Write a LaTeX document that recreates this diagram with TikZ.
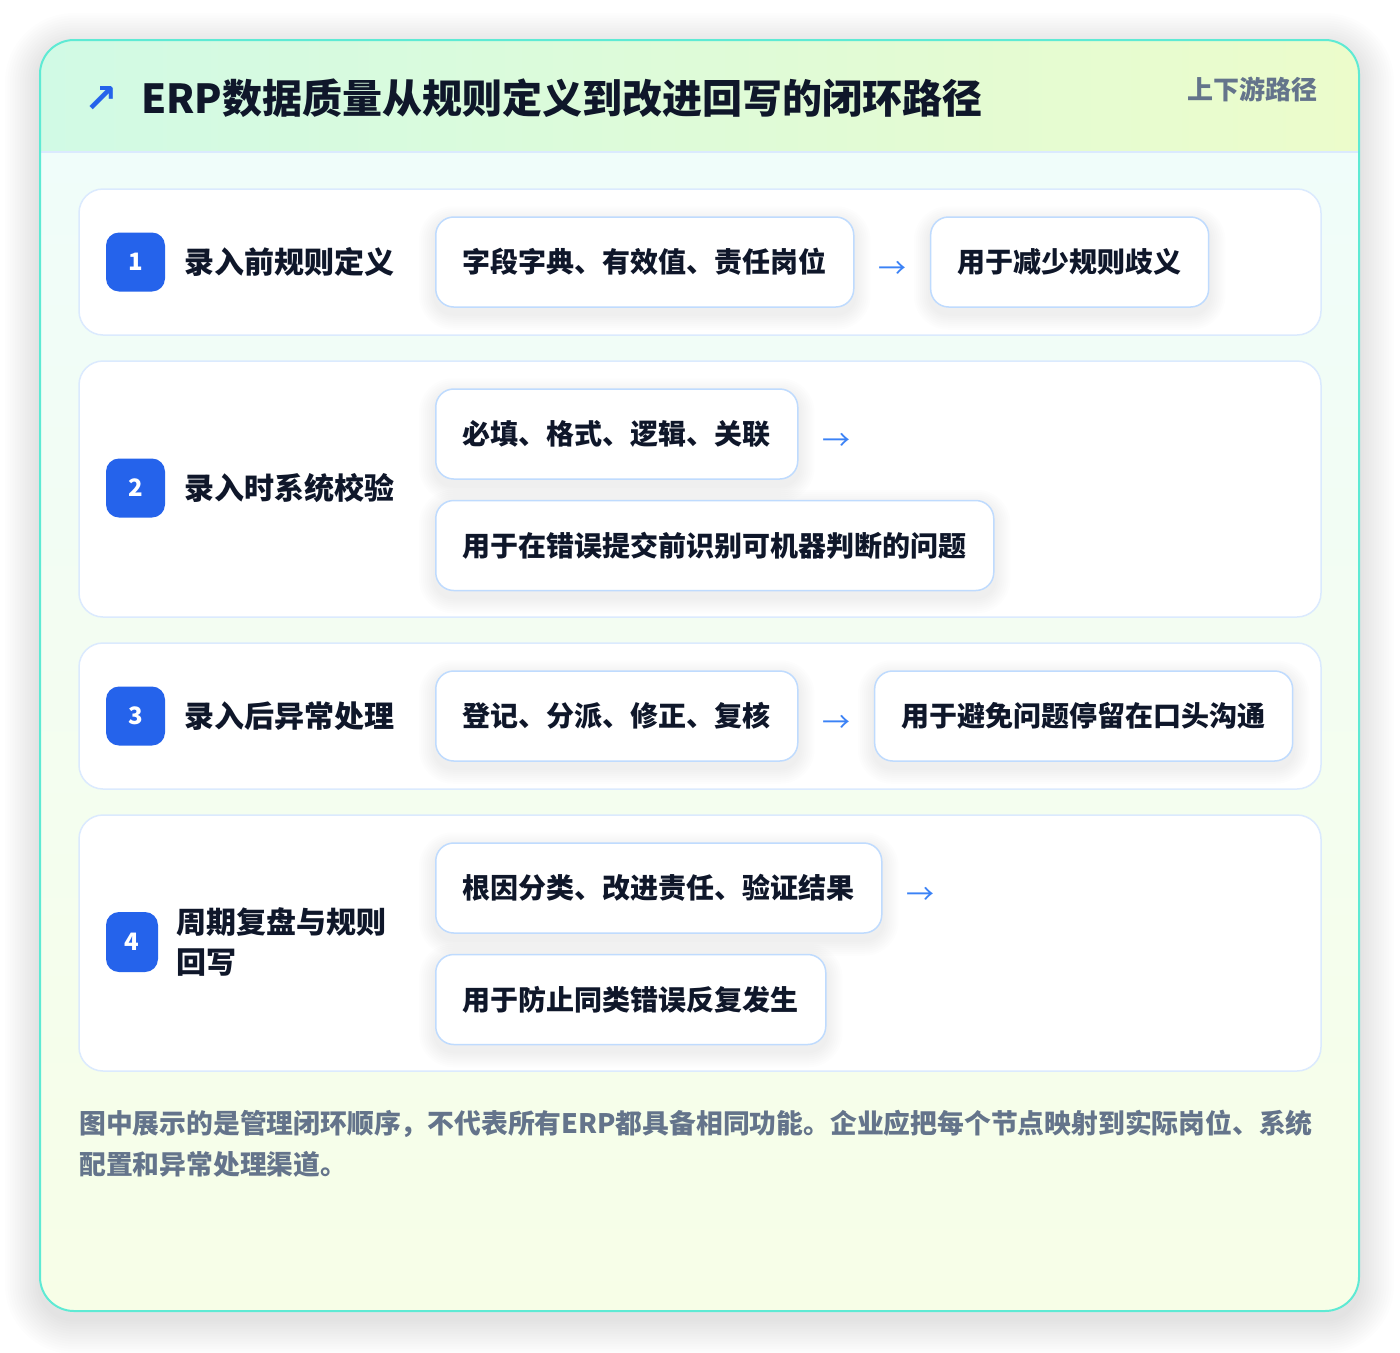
\documentclass[tikz,border=0pt]{standalone}
\usepackage{fontspec}
\setmainfont{Noto Sans CJK SC}
\newfontfamily\symfont{DejaVu Sans}
\usepackage{tikz}
\usetikzlibrary{positioning, backgrounds}
\definecolor{ink}{HTML}{0F172A}
\definecolor{muted}{HTML}{64748B}
\definecolor{badgeblue}{HTML}{2563EB}
\definecolor{arrowblue}{HTML}{3B82F6}
\definecolor{cardline}{HTML}{5EEAD4}
\definecolor{rowline}{HTML}{DBEAFE}
\definecolor{chipline}{HTML}{BFDBFE}
\definecolor{headl}{HTML}{D1FAE5}
\definecolor{headr}{HTML}{ECFCCB}
\definecolor{bodytop}{HTML}{F0FDFA}
\definecolor{bodybot}{HTML}{F7FEE7}
\pgfdeclarelayer{back}
\pgfdeclarelayer{haze}
\pgfsetlayers{back,haze,main}
\tikzset{
    auto,node distance =22pt and 22pt,% gap between a chip, its arrow and the next chip
}
% soft shadow under a chip
\newcommand{\chiphaze}[1]{%
    \foreach \i in {1,...,8}{
        \fill[black, opacity=0.009, rounded corners=18pt+\i*2pt]
            ([xshift=-\i*2pt, yshift=-6pt+\i*2pt]#1.north west) rectangle ([xshift=\i*2pt, yshift=-6pt-\i*2pt]#1.south east);
    }}

\begin{document}
\begin{tikzpicture}
            [x=1pt, y=-1pt,
            every node/.style={text=ink, font=\bfseries},
            rowcard/.style={draw=rowline, line width=1.5pt, fill=white, rounded corners=24pt, minimum width=1242pt, inner sep=0pt},
            badge/.style={fill=badgeblue, rounded corners=13pt, minimum width=59pt, minimum height=59pt, inner sep=0pt, text=white, font=\fontsize{24}{28}\selectfont\bfseries},
            steplabel/.style={inner sep=0pt, align=left, font=\fontsize{30}{40}\selectfont\bfseries},
            chip/.style={draw=chipline, line width=1.5pt, fill=white, rounded corners=18pt, minimum height=90pt, inner xsep=27pt, inner ysep=0pt, font=\fontsize{28}{34}\selectfont\bfseries},
            flow/.style={text=arrowblue, inner sep=0pt, minimum width=31pt, yshift=-8pt, font=\fontsize{28}{34}\selectfont}]
            \useasboundingbox (0,0) rectangle (1400,1352);
            \begin{pgfonlayer}{back}
            % card
            \foreach \i in {1,...,14}
                \fill[black, opacity=0.007, rounded corners=34pt+\i*2.5pt]
                    (40-\i*2.5,40-\i*2.5+8) rectangle (1359+\i*2.5,1311+\i*2.5+8);
            \begin{scope}
                \clip[rounded corners=34pt] (40,40) rectangle (1359,1311);
                \shade[top color=bodytop, bottom color=bodybot] (40,152) rectangle (1359,1311);
                \shade[left color=headl, right color=headr] (40,40) rectangle (1359,152);
                \draw[rowline, line width=1.5pt] (40,152) -- (1359,152);
            \end{scope}
            \draw[cardline, line width=2pt, rounded corners=34pt] (40,40) rectangle (1359,1311);
            % rows
            \node[rowcard, minimum height=146pt] (r1) at (700,262) {};
            \node[rowcard, minimum height=256pt] (r2) at (700,489) {};
            \node[rowcard, minimum height=146pt] (r3) at (700,716) {};
            \node[rowcard, minimum height=256pt] (r4) at (700,943) {};
            \end{pgfonlayer}
            \node[text=badgeblue, inner sep=0pt, font=\symfont\fontsize{40}{44}\selectfont\bfseries] (icon) at (101,99) {↗};
            \node[anchor=west, inner sep=0pt, font=\fontsize{40}{48}\selectfont\bfseries] (title) at (141,98) {ERP数据质量从规则定义到改进回写的闭环路径};
            \node[anchor=east, inner sep=0pt, text=muted, font=\fontsize{26}{30}\selectfont\bfseries] (tag) at (1318,89) {上下游路径};
            % row 1
            \node[badge] (b1) at (135.5,262) {1};
            \node[steplabel, right=19pt of b1] (l1) {录入前规则定义};
            \node[chip, anchor=west] (c1a) at (435,262) {字段字典、有效值、责任岗位};
            \node[flow, right=of c1a] (f1) {→};
            \node[chip, anchor=west] (c1b) at ([xshift=22pt]f1.east |- c1a) {用于减少规则歧义};
            % row 2
            \node[badge] (b2) at (135.5,488) {2};
            \node[steplabel, right=19pt of b2] (l2) {录入时系统校验};
            \node[chip, anchor=west] (c2a) at (435,434) {必填、格式、逻辑、关联};
            \node[flow, right=of c2a] (f2) {→};
            \node[chip, anchor=north west] (c2b) at ([yshift=-20pt]c2a.south west) {用于在错误提交前识别可机器判断的问题};
            % row 3
            \node[badge] (b3) at (135.5,716) {3};
            \node[steplabel, right=19pt of b3] (l3) {录入后异常处理};
            \node[chip, anchor=west] (c3a) at (435,716) {登记、分派、修正、复核};
            \node[flow, right=of c3a] (f3) {→};
            \node[chip, anchor=west] (c3b) at ([xshift=22pt]f3.east |- c3a) {用于避免问题停留在口头沟通};
            % row 4
            \node[badge, minimum width=52pt, minimum height=60pt] (b4) at (132,942) {4};
            \node[steplabel, right=18pt of b4] (l4) {周期复盘与规则\\回写};
            \node[chip, anchor=west] (c4a) at (435,888) {根因分类、改进责任、验证结果};
            \node[flow, right=of c4a] (f4) {→};
            \node[chip, anchor=north west] (c4b) at ([yshift=-20pt]c4a.south west) {用于防止同类错误反复发生};
            \begin{pgfonlayer}{haze}
            \foreach \c in {c1a,c1b,c2a,c2b,c3a,c3b,c4a,c4b}
                \chiphaze{\c};
            \end{pgfonlayer}
            % note
            \node[anchor=base west, inner sep=0pt, align=left, text=muted, font=\fontsize{26.8}{41}\selectfont\bfseries] (note) at (79,1174)
                {图中展示的是管理闭环顺序，不代表所有ERP都具备相同功能。企业应把每个节点映射到实际岗位、系统\\配置和异常处理渠道。};
        \end{tikzpicture}
\end{document}
